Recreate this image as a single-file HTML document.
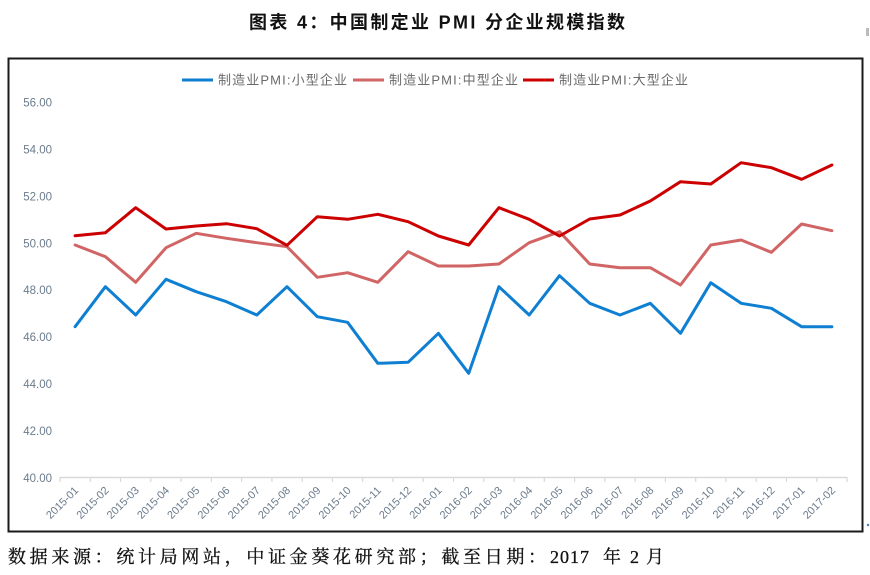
<!DOCTYPE html>
<html><head><meta charset="utf-8"><style>
html,body{margin:0;padding:0;background:#fff;}
body{width:870px;height:575px;overflow:hidden;position:relative;}
svg{position:absolute;left:0;top:0;}
</style></head><body>
<svg width="870" height="575" viewBox="0 0 870 575" xmlns="http://www.w3.org/2000/svg">
<rect x="0" y="0" width="870" height="575" fill="#fff"/>
<text x="249" y="28.5" textLength="376" lengthAdjust="spacing" font-family="'Liberation Sans','Noto Sans CJK SC',sans-serif" font-weight="bold" font-size="18" fill="#111">图表 4：中国制定业 PMI 分企业规模指数</text>
<rect x="866" y="28" width="3" height="8" fill="#bbb"/>
<rect x="8.5" y="58.5" width="854" height="473" fill="#fff" stroke="#1a1a1a" stroke-width="2"/>
<!-- legend -->
<g font-family="'Liberation Sans','Noto Sans CJK SC',sans-serif" font-size="13" fill="#6a6a6a">
<line x1="182" y1="80" x2="213" y2="80" stroke="#0f7fd2" stroke-width="3"/>
<text x="218" y="84.5" textLength="129" lengthAdjust="spacing">制造业PMI:小型企业</text>
<line x1="353" y1="80" x2="384" y2="80" stroke="#d16565" stroke-width="3"/>
<text x="389" y="84.5" textLength="129" lengthAdjust="spacing">制造业PMI:中型企业</text>
<line x1="523" y1="80" x2="554" y2="80" stroke="#cc0000" stroke-width="3"/>
<text x="559" y="84.5" textLength="129" lengthAdjust="spacing">制造业PMI:大型企业</text>
</g>
<!-- y labels -->
<g font-family="'Liberation Sans',sans-serif" font-size="11.5" fill="#6b7b8c" text-anchor="end">
<text x="52" y="106.7">56.00</text>
<text x="52" y="153.6">54.00</text>
<text x="52" y="200.5">52.00</text>
<text x="52" y="247.3">50.00</text>
<text x="52" y="294.2">48.00</text>
<text x="52" y="341.1">46.00</text>
<text x="52" y="388">44.00</text>
<text x="52" y="434.9">42.00</text>
<text x="52" y="481.8">40.00</text>
</g>
<!-- x axis -->
<line x1="60" y1="477.5" x2="847" y2="477.5" stroke="#d9d9d9" stroke-width="1.5"/>
<g stroke="#d9d9d9" stroke-width="1.2">
<line x1="60" y1="477" x2="60" y2="482"/><line x1="90.3" y1="477" x2="90.3" y2="482"/><line x1="120.5" y1="477" x2="120.5" y2="482"/><line x1="150.8" y1="477" x2="150.8" y2="482"/><line x1="181.1" y1="477" x2="181.1" y2="482"/><line x1="211.4" y1="477" x2="211.4" y2="482"/><line x1="241.6" y1="477" x2="241.6" y2="482"/><line x1="271.9" y1="477" x2="271.9" y2="482"/><line x1="302.2" y1="477" x2="302.2" y2="482"/><line x1="332.4" y1="477" x2="332.4" y2="482"/><line x1="362.7" y1="477" x2="362.7" y2="482"/><line x1="393" y1="477" x2="393" y2="482"/><line x1="423.2" y1="477" x2="423.2" y2="482"/><line x1="453.5" y1="477" x2="453.5" y2="482"/><line x1="483.8" y1="477" x2="483.8" y2="482"/><line x1="514.1" y1="477" x2="514.1" y2="482"/><line x1="544.3" y1="477" x2="544.3" y2="482"/><line x1="574.6" y1="477" x2="574.6" y2="482"/><line x1="604.9" y1="477" x2="604.9" y2="482"/><line x1="635.1" y1="477" x2="635.1" y2="482"/><line x1="665.4" y1="477" x2="665.4" y2="482"/><line x1="695.7" y1="477" x2="695.7" y2="482"/><line x1="725.9" y1="477" x2="725.9" y2="482"/><line x1="756.2" y1="477" x2="756.2" y2="482"/><line x1="786.5" y1="477" x2="786.5" y2="482"/><line x1="816.8" y1="477" x2="816.8" y2="482"/><line x1="847" y1="477" x2="847" y2="482"/>
</g>
<g font-family="'Liberation Sans',sans-serif" font-size="11" fill="#6b7b8c" text-anchor="end">
<text transform="translate(79.1,491) rotate(-45)">2015-01</text>
<text transform="translate(109.4,491) rotate(-45)">2015-02</text>
<text transform="translate(139.7,491) rotate(-45)">2015-03</text>
<text transform="translate(170,491) rotate(-45)">2015-04</text>
<text transform="translate(200.2,491) rotate(-45)">2015-05</text>
<text transform="translate(230.5,491) rotate(-45)">2015-06</text>
<text transform="translate(260.8,491) rotate(-45)">2015-07</text>
<text transform="translate(291,491) rotate(-45)">2015-08</text>
<text transform="translate(321.3,491) rotate(-45)">2015-09</text>
<text transform="translate(351.6,491) rotate(-45)">2015-10</text>
<text transform="translate(381.8,491) rotate(-45)">2015-11</text>
<text transform="translate(412.1,491) rotate(-45)">2015-12</text>
<text transform="translate(442.4,491) rotate(-45)">2016-01</text>
<text transform="translate(472.7,491) rotate(-45)">2016-02</text>
<text transform="translate(502.9,491) rotate(-45)">2016-03</text>
<text transform="translate(533.2,491) rotate(-45)">2016-04</text>
<text transform="translate(563.5,491) rotate(-45)">2016-05</text>
<text transform="translate(593.7,491) rotate(-45)">2016-06</text>
<text transform="translate(624,491) rotate(-45)">2016-07</text>
<text transform="translate(654.3,491) rotate(-45)">2016-08</text>
<text transform="translate(684.5,491) rotate(-45)">2016-09</text>
<text transform="translate(714.8,491) rotate(-45)">2016-10</text>
<text transform="translate(745.1,491) rotate(-45)">2016-11</text>
<text transform="translate(775.4,491) rotate(-45)">2016-12</text>
<text transform="translate(805.6,491) rotate(-45)">2017-01</text>
<text transform="translate(835.9,491) rotate(-45)">2017-02</text>
</g>
<!-- series -->
<g fill="none" stroke-width="3" stroke-linejoin="round" stroke-linecap="round">
<polyline stroke="#d16565" points="75.1,245 105.4,256.7 135.7,282.3 166,247.7 196.2,233.3 226.5,238.3 256.8,242.7 287,246.7 317.3,277.3 347.6,272.7 377.8,282.3 408.1,251.7 438.4,266 468.7,266 498.9,264 529.2,242.7 559.5,231.7 589.7,264 620,267.7 650.3,267.7 680.5,285 710.8,245 741.1,240 771.4,252.3 801.6,224 831.9,230.7"/>
<polyline stroke="#cc0000" points="75.1,235.7 105.4,232.7 135.7,207.7 166,229 196.2,226 226.5,223.7 256.8,228.7 287,245.3 317.3,216.7 347.6,219.3 377.8,214.3 408.1,221.7 438.4,236 468.7,245 498.9,207.7 529.2,219.3 559.5,236 589.7,219 620,215 650.3,201 680.5,181.7 710.8,184 741.1,162.7 771.4,167.7 801.6,179.3 831.9,165"/>
<polyline stroke="#0f7fd2" points="75.1,326.7 105.4,286.7 135.7,315 166,279.3 196.2,291.7 226.5,301.7 256.8,315 287,286.7 317.3,316.7 347.6,322.3 377.8,363.3 408.1,362.3 438.4,333.3 468.7,373.3 498.9,286.7 529.2,315 559.5,275.7 589.7,303.3 620,315 650.3,303.3 680.5,333.3 710.8,282.7 741.1,303.3 771.4,308.3 801.6,326.7 831.9,326.7"/>
</g>
<circle cx="868" cy="525" r="1.2" fill="#3a7fd0"/>
<!-- footer -->
<g font-family="'Liberation Serif','Noto Serif CJK SC',serif" font-size="18" fill="#111" stroke="#111" stroke-width="0.3">
<text x="8" y="563" textLength="538" lengthAdjust="spacing">数据来源：统计局网站，中证金葵花研究部；截至日期：</text>
<text x="550" y="563" textLength="39" lengthAdjust="spacing">2017</text>
<text x="603" y="563">年</text>
<text x="630" y="563">2</text>
<text x="646" y="563">月</text>
</g>
</svg>
</body></html>
